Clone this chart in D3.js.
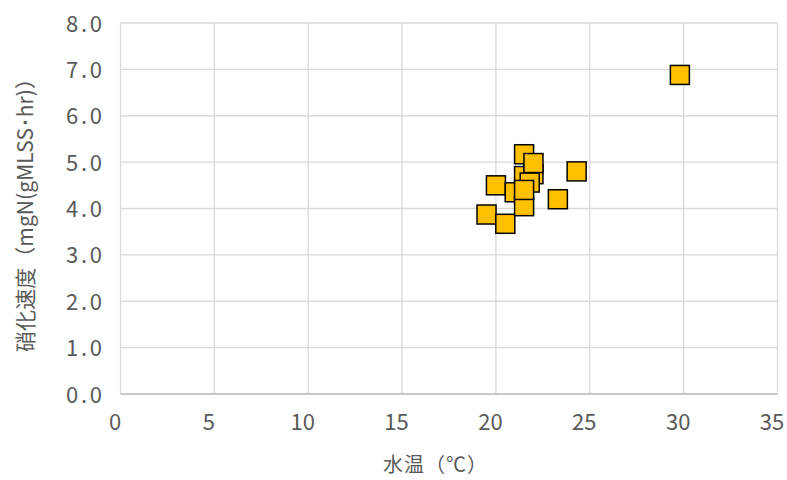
<!DOCTYPE html>
<html><head><meta charset="utf-8">
<script src="https://cdn.jsdelivr.net/npm/d3@7"></script>
<style>body{margin:0;background:#fff}</style>
</head><body>
<svg id="c" width="787" height="480"></svg>
<script>
const waterTemp = [19.5, 20.5, 20.0, 21.0, 21.5, 21.5, 22.0, 21.8, 21.5, 21.5, 22.0, 23.3, 24.3, 29.8];
const nitrRate  = [3.87, 3.67, 4.50, 4.35, 4.05, 4.70, 4.74, 4.56, 4.40, 5.17, 4.98, 4.20, 4.80, 6.88];
const xTicks = [0, 5, 10, 15, 20, 25, 30, 35];
const yTicks = [0, 1, 2, 3, 4, 5, 6, 7, 8];
const xTitle = "水温（℃）";
const yTitle = "硝化速度（mgN(gMLSS･hr)）";

const svg = d3.select("#c");
const L = 120.5, R = 777.5, T = 23, B = 394;
const x = d3.scaleLinear().domain([0, 35]).range([L, R]);
const y = d3.scaleLinear().domain([0, 8]).range([B, T]);
const font = "'Noto Sans CJK JP', 'Noto Sans', sans-serif";
const col = "#595959";

// gridlines
svg.append("g").selectAll("line.v").data(xTicks).join("line")
  .attr("x1", d => x(d)).attr("x2", d => x(d)).attr("y1", T).attr("y2", B)
  .attr("stroke", "#d9d9d9").attr("stroke-width", 1.3);
svg.append("g").selectAll("line.h").data(yTicks).join("line")
  .attr("x1", L).attr("x2", R).attr("y1", d => y(d)).attr("y2", d => y(d))
  .attr("stroke", "#d9d9d9").attr("stroke-width", 1.3);
svg.append("line").attr("x1", L).attr("x2", R).attr("y1", B).attr("y2", B)
  .attr("stroke", "#bfbfbf").attr("stroke-width", 1.3);

// tick labels
svg.append("g").selectAll("text").data(yTicks).join("text")
  .attr("x", 102).attr("y", d => y(d) + 8.5)
  .attr("text-anchor", "end").attr("font-family", font).attr("font-size", 22)
  .attr("fill", col).attr("textLength", 36).attr("lengthAdjust", "spacing")
  .text(d => d3.format(".1f")(d));
svg.append("g").selectAll("text").data(xTicks).join("text")
  .attr("x", d => x(d) - 5.5).attr("y", 429.5)
  .attr("text-anchor", "middle").attr("font-family", font).attr("font-size", 22)
  .attr("fill", col)
  .text(d => d);

// axis titles
svg.append("text").attr("x", 435).attr("y", 472).attr("text-anchor", "middle")
  .attr("font-family", font).attr("font-size", 20).attr("fill", col)
  .attr("textLength", 104).attr("lengthAdjust", "spacing").text(xTitle);
svg.append("text").attr("transform", "translate(33,210) rotate(-90)").attr("text-anchor", "middle")
  .attr("font-family", font).attr("font-size", 21).attr("fill", col)
  .attr("textLength", 284).attr("lengthAdjust", "spacing").text(yTitle);

// points
const s = 19;
svg.append("g").selectAll("rect").data(waterTemp.map((t, i) => [t, nitrRate[i]])).join("rect")
  .attr("x", d => x(d[0]) - s / 2).attr("y", d => y(d[1]) - s / 2)
  .attr("width", s).attr("height", s)
  .attr("fill", "#FFC000").attr("stroke", "#000").attr("stroke-width", 1.5);
</script>
</body></html>
